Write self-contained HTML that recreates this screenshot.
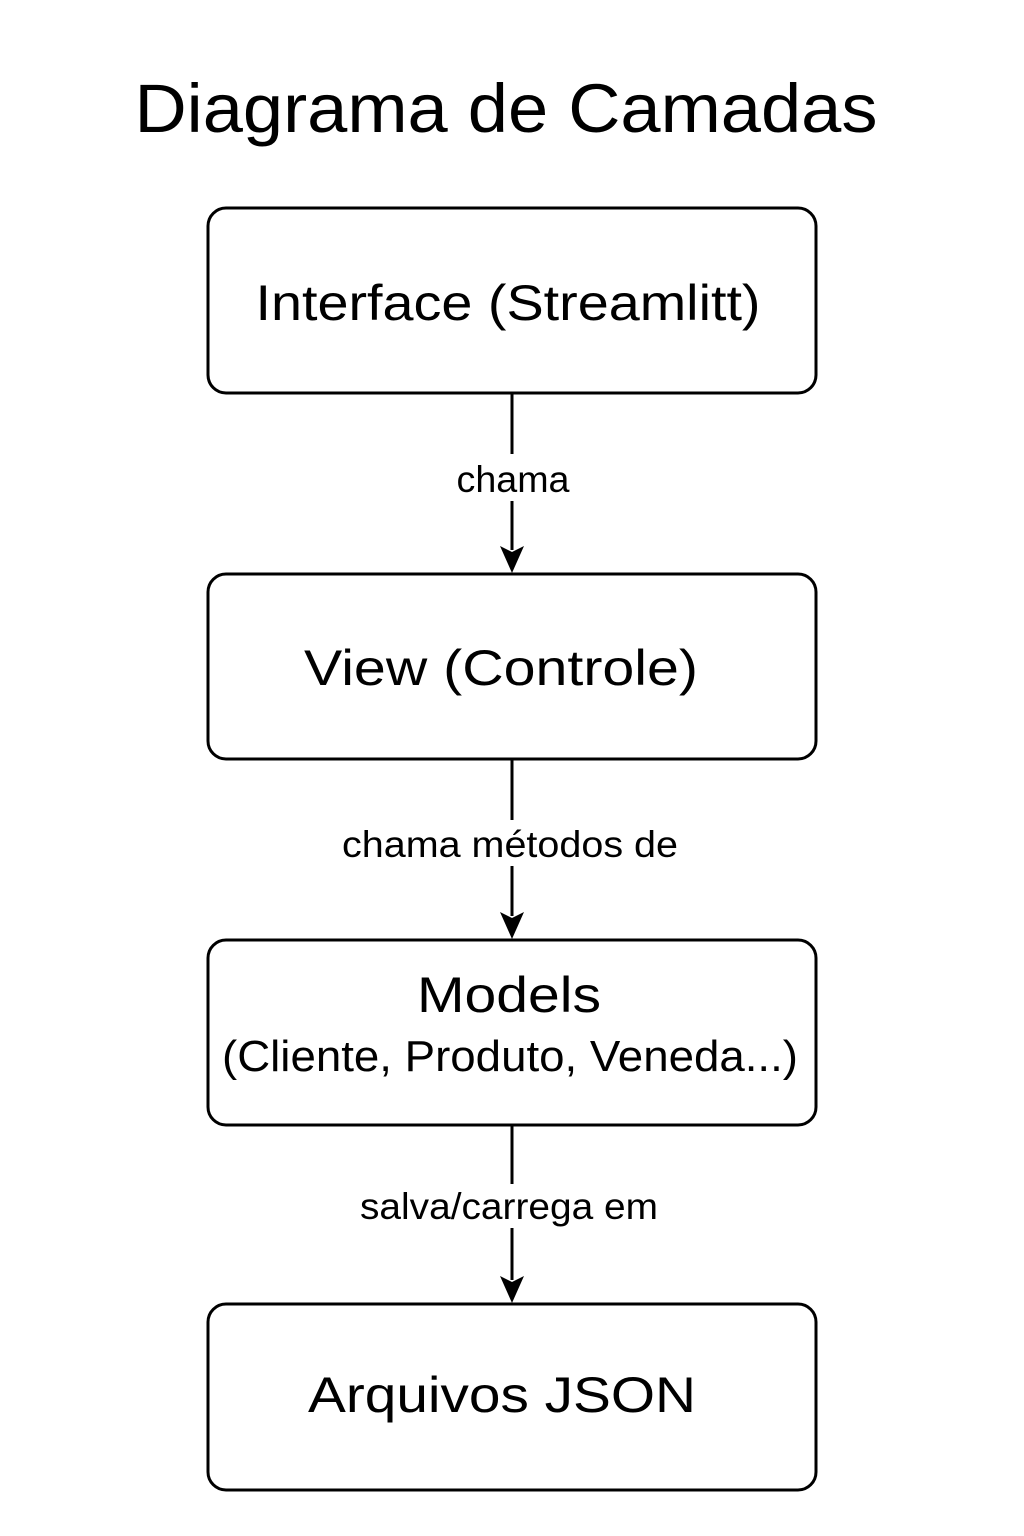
<!DOCTYPE html>
<html><head><meta charset="utf-8"><style>html,body{margin:0;padding:0;background:#fff}svg{display:block}</style></head>
<body>
<svg width="1024" height="1536" viewBox="0 0 1024 1536" xmlns="http://www.w3.org/2000/svg" font-family="Liberation Sans, sans-serif" fill="#000">
<rect width="1024" height="1536" fill="#fff"/>
<text x="506" y="132" font-size="69" text-anchor="middle" textLength="743" lengthAdjust="spacingAndGlyphs">Diagrama de Camadas</text>
<g fill="none" stroke="#000" stroke-width="3">
<rect x="208" y="208" width="608" height="185" rx="18"/>
<rect x="208" y="574" width="608" height="185" rx="18"/>
<rect x="208" y="940" width="608" height="185" rx="18"/>
<rect x="208" y="1304" width="608" height="186" rx="18"/>
<line x1="512" y1="393" x2="512" y2="454"/><line x1="512" y1="501" x2="512" y2="550"/>
<line x1="512" y1="759" x2="512" y2="820"/><line x1="512" y1="866" x2="512" y2="916"/>
<line x1="512" y1="1125" x2="512" y2="1184"/><line x1="512" y1="1228" x2="512" y2="1280"/>
</g>
<path d="M512 573 L500 546 L512 552 L524 546 Z"/>
<path d="M512 939 L500 912 L512 918 L524 912 Z"/>
<path d="M512 1303 L500 1276 L512 1282 L524 1276 Z"/>
<g font-size="50" text-anchor="middle">
<text x="508" y="320" textLength="505" lengthAdjust="spacingAndGlyphs">Interface (Streamlitt)</text>
<text x="501" y="685" textLength="394" lengthAdjust="spacingAndGlyphs">View (Controle)</text>
<text x="509" y="1012" textLength="184" lengthAdjust="spacingAndGlyphs">Models</text>
<text x="510" y="1071" font-size="44" textLength="576" lengthAdjust="spacingAndGlyphs">(Cliente, Produto, Veneda...)</text>
<text x="502" y="1412" textLength="388" lengthAdjust="spacingAndGlyphs">Arquivos JSON</text>
</g>
<g font-size="37" text-anchor="middle">
<text x="513" y="492" textLength="113" lengthAdjust="spacingAndGlyphs">chama</text>
<text x="510" y="857" textLength="336" lengthAdjust="spacingAndGlyphs">chama métodos de</text>
<text x="509" y="1219" textLength="298" lengthAdjust="spacingAndGlyphs">salva/carrega em</text>
</g>
</svg>
</body></html>
